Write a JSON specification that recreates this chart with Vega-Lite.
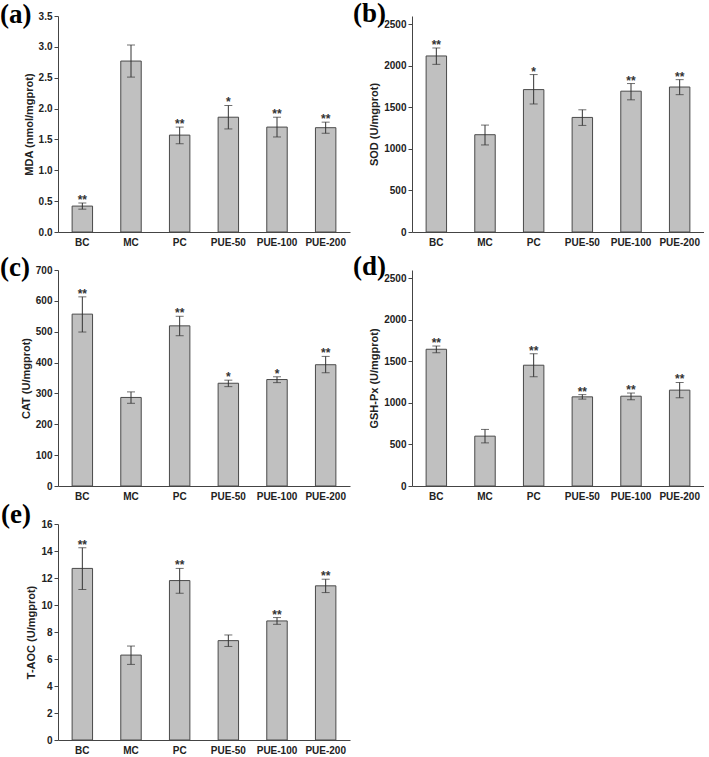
{
  "$schema": "https://vega.github.io/schema/vega-lite/v6.json",
  "description": "Oxidative stress markers (MDA, SOD, CAT, GSH-Px, T-AOC) by treatment group, mean with error bars.",
  "padding": {"left": 0, "top": 0, "right": 0, "bottom": 0},
  "background": "white",
  "datasets": {
    "groups": [
      {"panel": "MDA", "group": "BC", "mean": 0.42, "lo": 0.37, "hi": 0.47, "sig": "**"},
      {"panel": "MDA", "group": "MC", "mean": 2.77, "lo": 2.51, "hi": 3.03, "sig": ""},
      {"panel": "MDA", "group": "PC", "mean": 1.57, "lo": 1.43, "hi": 1.70, "sig": "**"},
      {"panel": "MDA", "group": "PUE-50", "mean": 1.86, "lo": 1.67, "hi": 2.05, "sig": "*"},
      {"panel": "MDA", "group": "PUE-100", "mean": 1.70, "lo": 1.54, "hi": 1.86, "sig": "**"},
      {"panel": "MDA", "group": "PUE-200", "mean": 1.69, "lo": 1.60, "hi": 1.78, "sig": "**"},
      {"panel": "SOD", "group": "BC", "mean": 2119, "lo": 2018, "hi": 2215, "sig": "**"},
      {"panel": "SOD", "group": "MC", "mean": 1171, "lo": 1048, "hi": 1287, "sig": ""},
      {"panel": "SOD", "group": "PC", "mean": 1714, "lo": 1541, "hi": 1895, "sig": "*"},
      {"panel": "SOD", "group": "PUE-50", "mean": 1379, "lo": 1283, "hi": 1471, "sig": ""},
      {"panel": "SOD", "group": "PUE-100", "mean": 1695, "lo": 1591, "hi": 1787, "sig": "**"},
      {"panel": "SOD", "group": "PUE-200", "mean": 1745, "lo": 1653, "hi": 1834, "sig": "**"},
      {"panel": "CAT", "group": "BC", "mean": 557, "lo": 499, "hi": 613, "sig": "**"},
      {"panel": "CAT", "group": "MC", "mean": 287, "lo": 268, "hi": 305, "sig": ""},
      {"panel": "CAT", "group": "PC", "mean": 519, "lo": 487, "hi": 550, "sig": "**"},
      {"panel": "CAT", "group": "PUE-50", "mean": 333, "lo": 322, "hi": 343, "sig": "*"},
      {"panel": "CAT", "group": "PUE-100", "mean": 345, "lo": 335, "hi": 354, "sig": "*"},
      {"panel": "CAT", "group": "PUE-200", "mean": 393, "lo": 367, "hi": 420, "sig": "**"},
      {"panel": "GSH", "group": "BC", "mean": 1646, "lo": 1604, "hi": 1685, "sig": "**"},
      {"panel": "GSH", "group": "MC", "mean": 600, "lo": 519, "hi": 681, "sig": ""},
      {"panel": "GSH", "group": "PC", "mean": 1454, "lo": 1315, "hi": 1592, "sig": "**"},
      {"panel": "GSH", "group": "PUE-50", "mean": 1073, "lo": 1046, "hi": 1100, "sig": "**"},
      {"panel": "GSH", "group": "PUE-100", "mean": 1081, "lo": 1038, "hi": 1119, "sig": "**"},
      {"panel": "GSH", "group": "PUE-200", "mean": 1154, "lo": 1062, "hi": 1246, "sig": "**"},
      {"panel": "TAOC", "group": "BC", "mean": 12.71, "lo": 11.15, "hi": 14.24, "sig": "**"},
      {"panel": "TAOC", "group": "MC", "mean": 6.29, "lo": 5.60, "hi": 6.96, "sig": ""},
      {"panel": "TAOC", "group": "PC", "mean": 11.81, "lo": 10.87, "hi": 12.71, "sig": "**"},
      {"panel": "TAOC", "group": "PUE-50", "mean": 7.36, "lo": 6.93, "hi": 7.78, "sig": ""},
      {"panel": "TAOC", "group": "PUE-100", "mean": 8.82, "lo": 8.57, "hi": 9.07, "sig": "**"},
      {"panel": "TAOC", "group": "PUE-200", "mean": 11.42, "lo": 10.92, "hi": 11.91, "sig": "**"}
    ]
  },
  "config": {
    "view": {"stroke": null},
    "font": "Liberation Sans",
    "axis": {
      "grid": false,
      "domainColor": "#444",
      "tickColor": "#444",
      "labelColor": "#222",
      "titleColor": "#222",
      "labelFont": "Liberation Sans",
      "titleFont": "Liberation Sans",
      "labelFontWeight": "bold",
      "titleFontWeight": "bold",
      "labelFontSize": 10,
      "titleFontSize": 11,
      "tickSize": 4,
      "labelPadding": 2,
      "titlePadding": 4,
      "labelOverlap": false
    },
    "axisX": {"ticks": false, "labelAngle": 0, "labelPadding": 5, "title": null},
    "bar": {"fill": "#c0c0c0", "stroke": "#4a4a4a", "strokeWidth": 1},
    "text": {"font": "Liberation Sans", "fontWeight": "bold", "fontSize": 12, "color": "#333", "baseline": "alphabetic", "dy": 1},
    "title": {"font": "Liberation Serif", "fontSize": 27, "fontWeight": "bold", "color": "#000", "anchor": "start", "frame": "group", "offset": 0, "baseline": "alphabetic"}
  },
  "columns": 2,
  "spacing": {"row": 38, "column": 62},
  "bounds": "flush",
  "concat": [
    {
      "width": 292, "height": 216,
      "title": {"text": "(a)", "dx": -58, "dy": 22},
      "data": {"name": "groups"},
      "transform": [{"filter": "datum.panel == 'MDA'"}],
      "encoding": {
        "x": {"field": "group", "type": "nominal", "sort": ["BC", "MC", "PC", "PUE-50", "PUE-100", "PUE-200"], "scale": {"paddingInner": 0.58, "paddingOuter": 0.29}}
      },
      "layer": [
        {"mark": "bar", "encoding": {"y": {"field": "mean", "type": "quantitative", "title": "MDA (nmol/mgprot)", "scale": {"domain": [0, 3.5]}, "axis": {"values": [0, 0.5, 1, 1.5, 2, 2.5, 3, 3.5], "format": ".1f"}}}},
        {"mark": {"type": "errorbar", "thickness": 1, "color": "#333", "ticks": {"size": 8, "color": "#333"}}, "encoding": {"y": {"field": "lo", "type": "quantitative", "title": "MDA (nmol/mgprot)", "axis": {"values": [0, 0.5, 1, 1.5, 2, 2.5, 3, 3.5], "format": ".1f"}}, "y2": {"field": "hi"}}},
        {"mark": "text", "encoding": {"y": {"field": "hi", "type": "quantitative", "title": "MDA (nmol/mgprot)", "axis": {"values": [0, 0.5, 1, 1.5, 2, 2.5, 3, 3.5], "format": ".1f"}}, "text": {"field": "sig"}}}
      ]
    },
    {
      "width": 292, "height": 216,
      "title": {"text": "(b)", "dx": -59, "dy": 16},
      "data": {"name": "groups"},
      "transform": [{"filter": "datum.panel == 'SOD'"}],
      "encoding": {
        "x": {"field": "group", "type": "nominal", "sort": ["BC", "MC", "PC", "PUE-50", "PUE-100", "PUE-200"], "scale": {"paddingInner": 0.58, "paddingOuter": 0.29}}
      },
      "layer": [
        {"mark": "bar", "encoding": {"y": {"field": "mean", "type": "quantitative", "title": "SOD (U/mgprot)", "scale": {"domain": [0, 2500]}, "axis": {"values": [0, 500, 1000, 1500, 2000, 2500], "format": "d"}}}},
        {"mark": {"type": "errorbar", "thickness": 1, "color": "#333", "ticks": {"size": 8, "color": "#333"}}, "encoding": {"y": {"field": "lo", "type": "quantitative", "title": "SOD (U/mgprot)", "axis": {"values": [0, 500, 1000, 1500, 2000, 2500], "format": "d"}}, "y2": {"field": "hi"}}},
        {"mark": "text", "encoding": {"y": {"field": "hi", "type": "quantitative", "title": "SOD (U/mgprot)", "axis": {"values": [0, 500, 1000, 1500, 2000, 2500], "format": "d"}}, "text": {"field": "sig"}}}
      ]
    },
    {
      "width": 292, "height": 216,
      "title": {"text": "(c)", "dx": -58, "dy": 21},
      "data": {"name": "groups"},
      "transform": [{"filter": "datum.panel == 'CAT'"}],
      "encoding": {
        "x": {"field": "group", "type": "nominal", "sort": ["BC", "MC", "PC", "PUE-50", "PUE-100", "PUE-200"], "scale": {"paddingInner": 0.58, "paddingOuter": 0.29}}
      },
      "layer": [
        {"mark": "bar", "encoding": {"y": {"field": "mean", "type": "quantitative", "title": "CAT (U/mgprot)", "scale": {"domain": [0, 700]}, "axis": {"values": [0, 100, 200, 300, 400, 500, 600, 700], "format": "d"}}}},
        {"mark": {"type": "errorbar", "thickness": 1, "color": "#333", "ticks": {"size": 8, "color": "#333"}}, "encoding": {"y": {"field": "lo", "type": "quantitative", "title": "CAT (U/mgprot)", "axis": {"values": [0, 100, 200, 300, 400, 500, 600, 700], "format": "d"}}, "y2": {"field": "hi"}}},
        {"mark": "text", "encoding": {"y": {"field": "hi", "type": "quantitative", "title": "CAT (U/mgprot)", "axis": {"values": [0, 100, 200, 300, 400, 500, 600, 700], "format": "d"}}, "text": {"field": "sig"}}}
      ]
    },
    {
      "width": 292, "height": 216,
      "title": {"text": "(d)", "dx": -59, "dy": 15},
      "data": {"name": "groups"},
      "transform": [{"filter": "datum.panel == 'GSH'"}],
      "encoding": {
        "x": {"field": "group", "type": "nominal", "sort": ["BC", "MC", "PC", "PUE-50", "PUE-100", "PUE-200"], "scale": {"paddingInner": 0.58, "paddingOuter": 0.29}}
      },
      "layer": [
        {"mark": "bar", "encoding": {"y": {"field": "mean", "type": "quantitative", "title": "GSH-Px (U/mgprot)", "scale": {"domain": [0, 2500]}, "axis": {"values": [0, 500, 1000, 1500, 2000, 2500], "format": "d"}}}},
        {"mark": {"type": "errorbar", "thickness": 1, "color": "#333", "ticks": {"size": 8, "color": "#333"}}, "encoding": {"y": {"field": "lo", "type": "quantitative", "title": "GSH-Px (U/mgprot)", "axis": {"values": [0, 500, 1000, 1500, 2000, 2500], "format": "d"}}, "y2": {"field": "hi"}}},
        {"mark": "text", "encoding": {"y": {"field": "hi", "type": "quantitative", "title": "GSH-Px (U/mgprot)", "axis": {"values": [0, 500, 1000, 1500, 2000, 2500], "format": "d"}}, "text": {"field": "sig"}}}
      ]
    },
    {
      "width": 292, "height": 216,
      "title": {"text": "(e)", "dx": -57, "dy": 14},
      "data": {"name": "groups"},
      "transform": [{"filter": "datum.panel == 'TAOC'"}],
      "encoding": {
        "x": {"field": "group", "type": "nominal", "sort": ["BC", "MC", "PC", "PUE-50", "PUE-100", "PUE-200"], "scale": {"paddingInner": 0.58, "paddingOuter": 0.29}}
      },
      "layer": [
        {"mark": "bar", "encoding": {"y": {"field": "mean", "type": "quantitative", "title": "T-AOC (U/mgprot)", "scale": {"domain": [0, 16]}, "axis": {"values": [0, 2, 4, 6, 8, 10, 12, 14, 16], "format": "d"}}}},
        {"mark": {"type": "errorbar", "thickness": 1, "color": "#333", "ticks": {"size": 8, "color": "#333"}}, "encoding": {"y": {"field": "lo", "type": "quantitative", "title": "T-AOC (U/mgprot)", "axis": {"values": [0, 2, 4, 6, 8, 10, 12, 14, 16], "format": "d"}}, "y2": {"field": "hi"}}},
        {"mark": "text", "encoding": {"y": {"field": "hi", "type": "quantitative", "title": "T-AOC (U/mgprot)", "axis": {"values": [0, 2, 4, 6, 8, 10, 12, 14, 16], "format": "d"}}, "text": {"field": "sig"}}}
      ]
    }
  ]
}
